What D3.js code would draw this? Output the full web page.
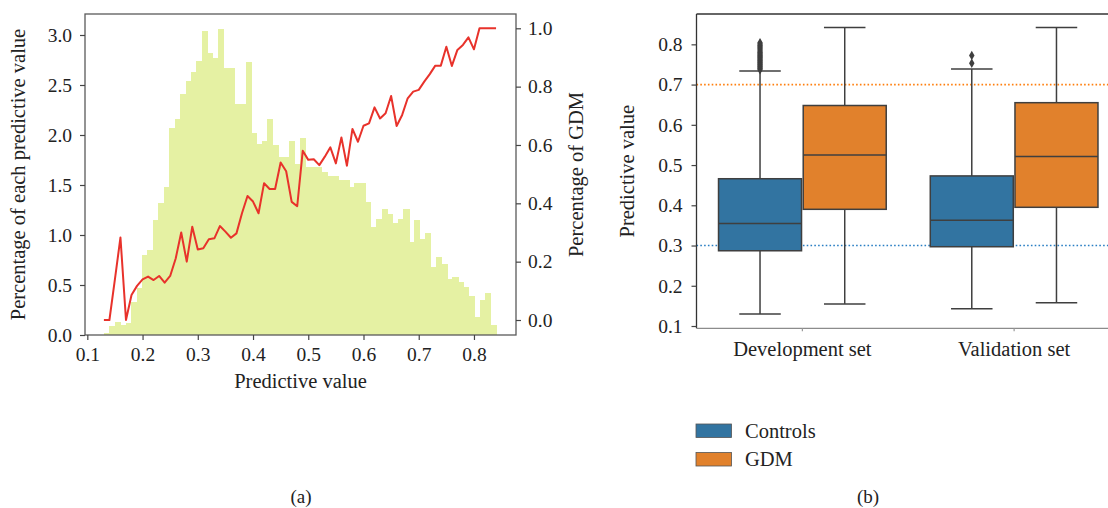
<!DOCTYPE html>
<html>
<head>
<meta charset="utf-8">
<script src="https://cdn.jsdelivr.net/npm/d3@7"></script>
<style>
  body { margin: 0; background: #fff; }
  svg text { font-family: "Liberation Serif", "DejaVu Serif", serif; fill: #222; }
</style>
</head>
<body>
<div id="chart"></div>
<script>
// ---------------------------------------------
// Panel (a): histogram of predictive values + GDM rate
// ---------------------------------------------
const histStart = 0.13;
const histEnd = 0.84;
const histHeights = [
    0.02, 0.09, 0.13, 0.10, 0.12, 0.33, 0.47, 0.80, 0.85, 1.15,
    1.32, 1.48, 2.07, 2.16, 2.41, 2.54, 2.63, 2.74, 3.04, 2.82,
    2.77, 3.06, 2.67, 2.67, 2.31, 2.31, 2.73, 2.02, 1.91, 1.94,
    2.16, 1.90, 1.78, 1.78, 1.94, 1.71, 1.97, 1.68, 1.68, 1.68,
    1.63, 1.59, 1.59, 1.55, 1.55, 1.48, 1.52, 1.52, 1.33, 1.08,
    1.16, 1.26, 1.21, 1.12, 1.16, 1.26, 0.93, 1.15, 0.96, 1.02,
    0.68, 0.78, 0.71, 0.56, 0.58, 0.53, 0.48, 0.39, 0.18, 0.35,
    0.42, 0.10
];

const gdmX = [
    0.13, 0.14, 0.15, 0.16, 0.17, 0.18, 0.19, 0.20, 0.21, 0.22,
    0.23, 0.24, 0.25, 0.26, 0.27, 0.28, 0.29, 0.30, 0.31, 0.32,
    0.33, 0.34, 0.35, 0.36, 0.37, 0.38, 0.39, 0.40, 0.41, 0.42,
    0.43, 0.44, 0.45, 0.46, 0.47, 0.48, 0.49, 0.50, 0.51, 0.52,
    0.53, 0.54, 0.55, 0.56, 0.57, 0.58, 0.59, 0.60, 0.61, 0.62,
    0.63, 0.64, 0.65, 0.66, 0.67, 0.68, 0.69, 0.70, 0.71, 0.72,
    0.73, 0.74, 0.75, 0.76, 0.77, 0.78, 0.79, 0.80, 0.81, 0.82,
    0.83, 0.84
];
const gdmRate = [
    0.000, 0.000, 0.140, 0.283, 0.000, 0.086, 0.117, 0.139, 0.149, 0.137,
    0.151, 0.128, 0.151, 0.211, 0.300, 0.200, 0.320, 0.242, 0.246, 0.277,
    0.280, 0.322, 0.303, 0.282, 0.297, 0.366, 0.425, 0.406, 0.366, 0.469,
    0.449, 0.449, 0.540, 0.510, 0.405, 0.390, 0.580, 0.549, 0.551, 0.531,
    0.560, 0.592, 0.537, 0.626, 0.529, 0.655, 0.611, 0.666, 0.674, 0.729,
    0.691, 0.709, 0.768, 0.665, 0.703, 0.760, 0.783, 0.789, 0.817, 0.843,
    0.872, 0.872, 0.937, 0.871, 0.926, 0.943, 0.969, 0.928, 1.000, 1.000,
    1.000, 1.000
];

const xTicksA = [0.1, 0.2, 0.3, 0.4, 0.5, 0.6, 0.7, 0.8];
const yTicksLeft = [0.0, 0.5, 1.0, 1.5, 2.0, 2.5, 3.0];
const yTicksRight = [0.0, 0.2, 0.4, 0.6, 0.8, 1.0];

// ---------------------------------------------
// Panel (b): box plots
// ---------------------------------------------
const groups = ["Development set", "Validation set"];
const hues = ["Controls", "GDM"];
// [lower whisker, Q1, median, Q3, upper whisker]
const controlsStats = [
    [0.130, 0.287, 0.355, 0.466, 0.734],
    [0.143, 0.297, 0.363, 0.473, 0.739]
];
const gdmStats = [
    [0.155, 0.390, 0.525, 0.648, 0.842],
    [0.158, 0.395, 0.521, 0.655, 0.842]
];
const controlsFliers = [
    [0.737, 0.740, 0.742, 0.745, 0.747, 0.750, 0.752, 0.755, 0.757, 0.760,
     0.762, 0.765, 0.767, 0.770, 0.772, 0.775, 0.778, 0.780, 0.783, 0.786,
     0.789, 0.792, 0.795, 0.798, 0.801, 0.804],
    [0.753, 0.772]
];
const gdmFliers = [[], []];
const thresholds = [0.3, 0.7];
const yTicksB = [0.1, 0.2, 0.3, 0.4, 0.5, 0.6, 0.7, 0.8];

const palette = { Controls: "#3274a1", GDM: "#e1812c" };
const lineColor = "#3f3f3f";

const svg = d3.select("#chart")
    .append("svg")
    .attr("width", 1108)
    .attr("height", 508);

// =============================================
// PANEL (a)
// =============================================
const A = { left: 85, right: 516, top: 14, bottom: 335 };

const xA = d3.scaleLinear().domain([0.0958, 0.8761]).range([A.left, A.right]);
const yL = d3.scaleLinear().domain([0, 3.21]).range([A.bottom, A.top]);
const yR = d3.scaleLinear().domain([-0.0514, 1.049]).range([A.bottom, A.top]);

const binW = (histEnd - histStart) / histHeights.length;

// histogram bars (crisp edges so neighbouring bars don't leave seams)
svg.append("g")
    .attr("shape-rendering", "crispEdges")
    .selectAll("rect")
    .data(histHeights)
    .join("rect")
    .attr("x", (d, i) => xA(histStart + i * binW))
    .attr("width", (d, i) => xA(histStart + (i + 1) * binW) - xA(histStart + i * binW) + 0.6)
    .attr("y", d => yL(d))
    .attr("height", d => yL(0) - yL(d))
    .attr("fill", "#e5f1a3");

// GDM percentage line
svg.append("path")
    .datum(gdmX.map((x, i) => [x, gdmRate[i]]))
    .attr("fill", "none")
    .attr("stroke", "#e8322b")
    .attr("stroke-width", 2)
    .attr("stroke-linejoin", "round")
    .attr("d", d3.line().x(d => xA(d[0])).y(d => yR(d[1])));

// frame
svg.append("rect")
    .attr("x", A.left).attr("y", A.top)
    .attr("width", A.right - A.left).attr("height", A.bottom - A.top)
    .attr("fill", "none").attr("stroke", "#5a5a5a").attr("stroke-width", 1.3);

const fontTick = "19.5px";
const fontLabel = "20.5px";

function styleAxis(g) {
    g.select(".domain").remove();
    g.selectAll(".tick line").attr("stroke", "#444").attr("stroke-width", 1.2);
    g.selectAll(".tick text").style("font-size", fontTick).attr("fill", "#222");
}

svg.append("g")
    .attr("transform", `translate(0,${A.bottom})`)
    .call(d3.axisBottom(xA).tickValues(xTicksA).tickFormat(d3.format(".1f")).tickSize(5).tickPadding(7))
    .call(styleAxis);

svg.append("g")
    .attr("transform", `translate(${A.left},0)`)
    .call(d3.axisLeft(yL).tickValues(yTicksLeft).tickFormat(d3.format(".1f")).tickSize(5).tickPadding(8))
    .call(styleAxis);

svg.append("g")
    .attr("transform", `translate(${A.right},0)`)
    .call(d3.axisRight(yR).tickValues(yTicksRight).tickFormat(d3.format(".1f")).tickSize(5).tickPadding(7))
    .call(styleAxis);

// labels
svg.append("text")
    .attr("x", (A.left + A.right) / 2).attr("y", 388)
    .attr("text-anchor", "middle").style("font-size", fontLabel)
    .text("Predictive value");

svg.append("text")
    .attr("transform", `translate(25,${(A.top + A.bottom) / 2}) rotate(-90)`)
    .attr("text-anchor", "middle").style("font-size", fontLabel)
    .text("Percentage of each predictive value");

svg.append("text")
    .attr("transform", `translate(583,${(A.top + A.bottom) / 2}) rotate(-90)`)
    .attr("text-anchor", "middle").style("font-size", fontLabel)
    .text("Percentage of GDM");

svg.append("text")
    .attr("x", 301).attr("y", 503)
    .attr("text-anchor", "middle").style("font-size", "19px")
    .text("(a)");

// =============================================
// PANEL (b)
// =============================================
const B = { left: 696.5, right: 1120, top: 14, bottom: 328.3 };

const xB = d3.scaleBand().domain(groups).range([B.left, B.right]).paddingInner(0);
const hueX = d3.scaleBand().domain(hues).range([0, xB.bandwidth() * 0.8]);
const yB = d3.scaleLinear().domain([0.0943, 0.8754]).range([B.bottom, B.top]);

// threshold lines
svg.append("g")
    .selectAll("line")
    .data(thresholds)
    .join("line")
    .attr("x1", B.left).attr("x2", B.right)
    .attr("y1", d => yB(d)).attr("y2", d => yB(d))
    .attr("stroke", (d, i) => i === 0 ? "#2a7fc4" : "#ff7f0e")
    .attr("stroke-width", 1.6)
    .attr("stroke-dasharray", "1.6,2.2");

// one entry per box
const boxes = [];
groups.forEach((grp, gi) => {
    boxes.push({ group: grp, hue: "Controls", s: controlsStats[gi], fliers: controlsFliers[gi] });
    boxes.push({ group: grp, hue: "GDM", s: gdmStats[gi], fliers: gdmFliers[gi] });
});

const boxW = hueX.bandwidth() * 0.98;

const boxG = svg.append("g")
    .selectAll("g.box")
    .data(boxes)
    .join("g")
    .attr("class", "box")
    .attr("transform", d => {
        const cx = xB(d.group) + xB.bandwidth() * 0.1 + hueX(d.hue) + hueX.bandwidth() / 2;
        return `translate(${cx},0)`;
    });

// whiskers
boxG.append("line")
    .attr("x1", 0).attr("x2", 0)
    .attr("y1", d => yB(d.s[0])).attr("y2", d => yB(d.s[1]))
    .attr("stroke", lineColor).attr("stroke-width", 1.5);
boxG.append("line")
    .attr("x1", 0).attr("x2", 0)
    .attr("y1", d => yB(d.s[3])).attr("y2", d => yB(d.s[4]))
    .attr("stroke", lineColor).attr("stroke-width", 1.5);

// caps
[0, 4].forEach(k => {
    boxG.append("line")
        .attr("x1", -boxW / 4).attr("x2", boxW / 4)
        .attr("y1", d => yB(d.s[k])).attr("y2", d => yB(d.s[k]))
        .attr("stroke", lineColor).attr("stroke-width", 1.5);
});

// boxes
boxG.append("rect")
    .attr("x", -boxW / 2).attr("width", boxW)
    .attr("y", d => yB(d.s[3]))
    .attr("height", d => yB(d.s[1]) - yB(d.s[3]))
    .attr("fill", d => palette[d.hue])
    .attr("stroke", lineColor).attr("stroke-width", 1.5);

// medians
boxG.append("line")
    .attr("x1", -boxW / 2).attr("x2", boxW / 2)
    .attr("y1", d => yB(d.s[2])).attr("y2", d => yB(d.s[2]))
    .attr("stroke", lineColor).attr("stroke-width", 1.5);

// fliers (diamonds)
const diamond = d3.symbol().type(d3.symbolDiamond).size(26);
boxG.selectAll("path.flier")
    .data(d => d.fliers)
    .join("path")
    .attr("class", "flier")
    .attr("transform", d => `translate(0,${yB(d)})`)
    .attr("d", diamond)
    .attr("fill", lineColor);

// spines
svg.append("line")
    .attr("x1", B.left).attr("x2", B.left).attr("y1", B.top).attr("y2", B.bottom)
    .attr("stroke", "#333").attr("stroke-width", 1.3);
svg.append("line")
    .attr("x1", B.left).attr("x2", B.right).attr("y1", B.top).attr("y2", B.top)
    .attr("stroke", "#333").attr("stroke-width", 1.3);
svg.append("line")
    .attr("x1", B.left).attr("x2", B.right).attr("y1", B.bottom).attr("y2", B.bottom)
    .attr("stroke", "#8c8c8c").attr("stroke-width", 1.3);

// axes
svg.append("g")
    .attr("transform", `translate(${B.left},0)`)
    .call(d3.axisLeft(yB).tickValues(yTicksB).tickFormat(d3.format(".1f")).tickSize(5).tickPadding(9))
    .call(styleAxis);

const xAxisB = svg.append("g")
    .attr("transform", `translate(0,${B.bottom})`)
    .call(d3.axisBottom(xB).tickSize(3).tickPadding(10))
    .call(styleAxis);
xAxisB.selectAll(".tick line").attr("stroke", "#999");
xAxisB.selectAll(".tick text").style("font-size", fontLabel);

svg.append("text")
    .attr("transform", `translate(634,${(B.top + B.bottom) / 2}) rotate(-90)`)
    .attr("text-anchor", "middle").style("font-size", fontLabel)
    .text("Predictive value");

// legend
const legend = svg.append("g")
    .selectAll("g")
    .data(hues)
    .join("g")
    .attr("transform", (d, i) => `translate(696,${424 + i * 28.5})`);
legend.append("rect")
    .attr("width", 35.5).attr("height", 13.5)
    .attr("fill", d => palette[d])
    .attr("stroke", "#555").attr("stroke-width", 0.8);
legend.append("text")
    .attr("x", 49).attr("y", 13.5)
    .style("font-size", "20.5px")
    .text(d => d);

svg.append("text")
    .attr("x", 868).attr("y", 503)
    .attr("text-anchor", "middle").style("font-size", "19px")
    .text("(b)");
</script>
</body>
</html>
